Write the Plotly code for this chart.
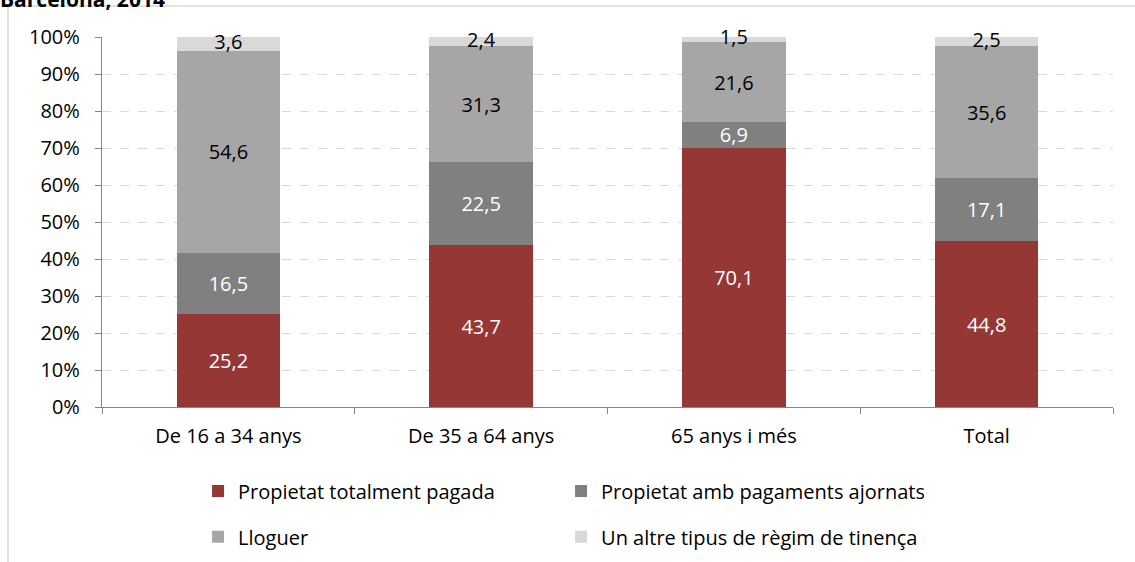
import plotly.graph_objects as go

categories = ["De 16 a 34 anys", "De 35 a 64 anys", "65 anys i més", "Total"]
series_names = ["Propietat totalment pagada", "Propietat amb pagaments ajornats",
                "Lloguer", "Un altre tipus de règim de tinença"]
propietat_pagada = [25.2, 43.7, 70.1, 44.8]
propietat_ajornats = [16.5, 22.5, 6.9, 17.1]
lloguer = [54.6, 31.3, 21.6, 35.6]
altre = [3.6, 2.4, 1.5, 2.5]
y_ticks = [0, 10, 20, 30, 40, 50, 60, 70, 80, 90, 100]
y_tick_labels = [f"{v}%" for v in y_ticks]
title_text = "Barcelona, 2014"

series_values = [propietat_pagada, propietat_ajornats, lloguer, altre]
colors = ["#953735", "#808080", "#a6a6a6", "#d9d9d9"]
text_colors = ["#ffffff", "#ffffff", "#000000", "#000000"]
legends = ["legend", "legend", "legend2", "legend2"]

FONT = "Open Sans"
FS = 20

fig = go.Figure()
for i, (name, vals, col, tcol, lg) in enumerate(zip(series_names, series_values, colors, text_colors, legends)):
    last = i == len(series_names) - 1
    fig.add_trace(go.Bar(
        x=categories, y=vals, name=name,
        marker=dict(color=col, line=dict(width=0)),
        text=None if last else vals,
        texttemplate=None if last else "%{y:.1f}",
        textposition="none" if last else "inside", insidetextanchor="middle",
        constraintext="none",
        textfont=dict(color=tcol, size=FS, family=FONT),
        legend=lg, hoverinfo="skip",
    ))

# labels of the thin top segment, centred on the segment (may overflow it)
base_top = [a + b + c for a, b, c in zip(propietat_pagada, propietat_ajornats, lloguer)]
mid_top = [b + v / 2 for b, v in zip(base_top, altre)]
fig.add_trace(go.Scatter(
    x=categories, y=mid_top, mode="text",
    text=[f"{v:.1f}".replace(".", ",") for v in altre],
    textposition="middle center",
    textfont=dict(color="#000000", size=FS, family=FONT),
    showlegend=False, hoverinfo="skip", cliponaxis=False,
))

fig.update_layout(
    barmode="stack",
    bargap=0.59,
    separators=",.",
    width=1135, height=562,
    margin=dict(l=102, r=22, t=37, b=155, autoexpand=False),
    paper_bgcolor="white", plot_bgcolor="white",
    font=dict(family=FONT, size=FS, color="#000000"),
    showlegend=True,
    title=dict(text="<b>" + title_text + "</b>", x=0, xref="container", xanchor="left",
               y=1, yref="container", yanchor="middle",
               font=dict(size=21, family=FONT, color="#000000")),
    legend=dict(orientation="h", x=0.095, xanchor="left", y=-0.227, yanchor="middle",
                entrywidth=318, entrywidthmode="pixels", traceorder="normal",
                font=dict(size=FS, family=FONT)),
    legend2=dict(orientation="h", x=0.095, xanchor="left", y=-0.351, yanchor="middle",
                 entrywidth=318, entrywidthmode="pixels", traceorder="normal",
                 font=dict(size=FS, family=FONT)),
    xaxis=dict(showline=True, linecolor="#868686", linewidth=1.3,
               ticks="outside", tickson="boundaries", ticklen=6, tickcolor="#868686",
               tickfont=dict(size=FS, family=FONT), ticklabelstandoff=11,
               showgrid=False, automargin=False),
    yaxis=dict(range=[0, 100], tickvals=y_ticks, ticktext=y_tick_labels,
               showline=True, linecolor="#868686", linewidth=1.3,
               ticks="outside", ticklen=6, tickcolor="#868686",
               tickfont=dict(size=FS, family=FONT), ticklabelstandoff=11,
               showgrid=True, gridcolor="#d9d9d9", griddash="dash", gridwidth=1,
               zeroline=False, automargin=False),
    shapes=[dict(type="rect", xref="paper", yref="paper",
                 x0=-0.093, x1=1.2, y0=-0.6, y1=1.0838,
                 line=dict(color="#d9d9d9", width=1.5), fillcolor="rgba(0,0,0,0)",
                 layer="below")],
)

fig.write_html("out.html", config={"displayModeBar": False},
               post_script="document.body.style.margin='0px';")
